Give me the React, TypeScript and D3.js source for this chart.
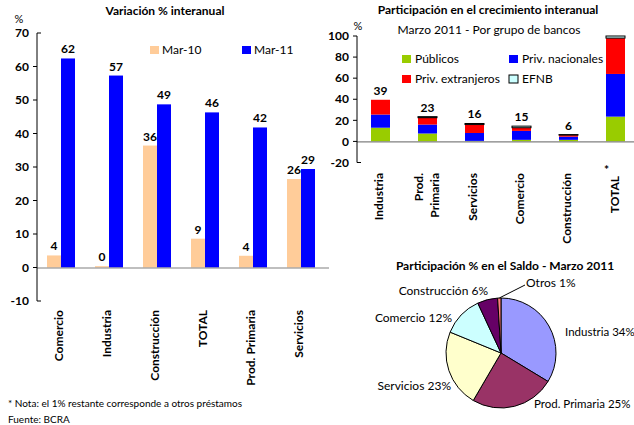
import React from 'react';
import * as d3 from 'd3';

// ---------- data ----------
const sectorsLeft = ['Comercio', 'Industria', 'Construcción', 'TOTAL', 'Prod. Primaria', 'Servicios'];
const seriesLeft = ['Mar-10', 'Mar-11'];
const mar10 = [3.6, 0.4, 36.4, 8.6, 3.5, 26.4];
const mar11 = [62.4, 57.3, 48.7, 46.3, 41.8, 29.4];
const leftTicks = [-10, 0, 10, 20, 30, 40, 50, 60, 70];

const sectorsRight = ['Industria', 'Prod. Primaria', 'Servicios', 'Comercio', 'Construcción', 'TOTAL'];
const groups = ['Públicos', 'Priv. nacionales', 'Priv. extranjeros', 'EFNB'];
const publicos = [13, 7.5, 0.5, 1.5, 1.5, 23.5];
const privNacionales = [12.5, 8.5, 7.5, 8.5, 3, 40.5];
const privExtranjeros = [14, 6.5, 8, 3, 1.5, 34];
const efnb = [0, 1, 1, 1.5, 0.5, 2];
const totalLabels = [39, 23, 16, 15, 6, null];
const rightTicks = [-20, 0, 20, 40, 60, 80, 100];

const pieNames = ['Industria', 'Prod. Primaria', 'Servicios', 'Comercio', 'Construcción', 'Otros'];
const pieValues = [34, 25, 23, 12, 6, 1];

// ---------- styles ----------
const FONT = 'Lato, "Open Sans", "DejaVu Sans", sans-serif';
const colLeft = ['#FFCC99', '#0000FF'];
const colGroups = ['#99CC00', '#0000FF', '#FF0000', '#CCFFFF'];
const colPie = ['#9999FF', '#993366', '#FFFFCC', '#CCFFFF', '#660066', '#FF8080'];
const pieLabelLayout = [
  { dx: 64, dy: -21, anchor: 'start', size: 11.5 },
  { dx: 33, dy: 51, anchor: 'start', size: 11.5 },
  { dx: -50, dy: 33, anchor: 'end', size: 12 },
  { dx: -49, dy: -35, anchor: 'end', size: 12 },
  { dx: -13, dy: -62, anchor: 'end', size: 12 },
  { dx: 25, dy: -70, anchor: 'start', size: 12 },
];

export default function App() {
  // ----- left chart -----
  const xL = d3.scaleBand<string>().domain(sectorsLeft).range([37, 325]);
  const xLi = d3.scaleBand<string>().domain(seriesLeft).range([10, 38]);
  const yL = d3.scaleLinear().domain([-10, 70]).range([301, 33]);
  const leftVals = [mar10, mar11];

  // ----- right chart -----
  const xR = d3.scaleBand<string>().domain(sectorsRight).range([357, 639]);
  const barW = 19;
  const yR = d3.scaleLinear().domain([-20, 100]).range([162.5, 36]);
  const rows = sectorsRight.map((s, i) => ({
    sector: s,
    'Públicos': publicos[i],
    'Priv. nacionales': privNacionales[i],
    'Priv. extranjeros': privExtranjeros[i],
    'EFNB': efnb[i],
  }));
  const stacked = d3.stack<any>().keys(groups)(rows);

  // ----- pie -----
  const cx = 501, cy = 353, r = 55;
  const pieData = d3.pie<number>().sort(null).value((d) => d)(pieValues);
  const arc = d3.arc<any>().innerRadius(0).outerRadius(r);

  const bold = { fontFamily: FONT, fontWeight: 700, fontSize: 12, fill: '#000' } as const;
  const normal = { fontFamily: FONT, fontSize: 12, fill: '#000' } as const;

  const otros = pieData[5];
  const otrosMid = (otros.startAngle + otros.endAngle) / 2;

  return (
    <svg width={634} height={425} style={{ position: 'absolute', left: 0, top: 0, background: '#fff' }}>
      <rect width={634} height={425} fill="#fff" />
      {/* ============ LEFT CHART ============ */}
      <text x={165} y={15} textAnchor="middle" style={bold}>Variación % interanual</text>
      <text x={19} y={23} textAnchor="middle" style={{ ...normal, fontSize: 11 }}>%</text>
      {/* legend */}
      {seriesLeft.map((s, i) => (
        <g key={s}>
          <rect x={150 + i * 92} y={46} width={9} height={8} fill={colLeft[i]} />
          <text x={162 + i * 92} y={54} style={normal}>{s}</text>
        </g>
      ))}
      {/* bars */}
      {sectorsLeft.map((c, ci) =>
        seriesLeft.map((s, si) => {
          const v = leftVals[si][ci];
          const x = (xL(c) as number) + (xLi(s) as number);
          return (
            <g key={c + s}>
              <rect x={x} y={yL(Math.max(0, v))} width={xLi.bandwidth()} height={Math.abs(yL(v) - yL(0))} fill={colLeft[si]} />
              <text x={x + xLi.bandwidth() / 2} y={yL(v) - 5} textAnchor="middle" style={bold}>{Math.round(v)}</text>
            </g>
          );
        })
      )}
      {/* zero line */}
      <line x1={37} x2={329} y1={yL(0) + 0.5} y2={yL(0) + 0.5} stroke="#808080" strokeWidth={1.2} />
      {/* y axis */}
      <line x1={37} x2={37} y1={yL(70)} y2={yL(-10)} stroke="#000" strokeWidth={1} />
      {leftTicks.map((t) => {
        const edge = t === -10 || t === 70;
        return (
          <g key={t}>
            <line x1={edge ? 37 : 33} x2={edge ? 41 : 37} y1={yL(t)} y2={yL(t)} stroke="#000" />
            <text x={29} y={yL(t)} dy="0.35em" textAnchor="end" style={bold}>{t}</text>
          </g>
        );
      })}
      {/* x labels */}
      {sectorsLeft.map((c) => {
        const x = (xL(c) as number) + xL.bandwidth() / 2 - 2;
        return (
          <text key={c} transform={`translate(${x},310) rotate(-90)`} dy="0.35em" textAnchor="end" style={bold}>{c}</text>
        );
      })}
      {/* notes */}
      <text x={8} y={407} style={{ fontFamily: FONT, fontSize: 10, fill: '#000' }}>* Nota: el 1% restante corresponde a otros préstamos</text>
      <text x={8} y={423} style={{ fontFamily: FONT, fontSize: 10, fill: '#000' }}>Fuente: BCRA</text>

      {/* ============ RIGHT TOP CHART ============ */}
      <text x={488} y={14} textAnchor="middle" style={bold}>Participación en el crecimiento interanual</text>
      <text x={489} y={34} textAnchor="middle" style={normal}>Marzo 2011 - Por grupo de bancos</text>
      <text x={358} y={30} textAnchor="middle" style={{ ...normal, fontSize: 11 }}>%</text>
      {/* legend */}
      {groups.map((g, i) => {
        const lx = i % 2 === 0 ? 402 : 509;
        const ly = i < 2 ? 55 : 75;
        return (
          <g key={g}>
            <rect x={lx} y={ly} width={9} height={8} fill={colGroups[i]} stroke={g === 'EFNB' ? '#000' : 'none'} strokeWidth={1} />
            <text x={lx + 13} y={ly + 8} style={normal}>{g}</text>
          </g>
        );
      })}
      {/* stacked bars */}
      {stacked.map((layer, li) =>
        layer.map((d, i) => {
          const c = sectorsRight[i];
          const x = (xR(c) as number) + (xR.bandwidth() - barW) / 2;
          const h = yR(d[0]) - yR(d[1]);
          if (h <= 0) return null;
          return (
            <rect key={li + '-' + i} x={x} y={yR(d[1])} width={barW} height={h} fill={colGroups[li]}
              stroke={groups[li] === 'EFNB' ? '#000' : 'none'} strokeWidth={1} />
          );
        })
      )}
      {totalLabels.map((lab, i) => {
        if (lab === null) return null;
        const c = sectorsRight[i];
        const tot = publicos[i] + privNacionales[i] + privExtranjeros[i] + efnb[i];
        return (
          <text key={c} x={(xR(c) as number) + xR.bandwidth() / 2} y={yR(tot) - 5} textAnchor="middle" style={bold}>{lab}</text>
        );
      })}
      <line x1={357} x2={634} y1={yR(0) + 0.5} y2={yR(0) + 0.5} stroke="#808080" strokeWidth={1.2} />
      <line x1={357} x2={357} y1={yR(100)} y2={yR(-20)} stroke="#000" />
      {rightTicks.map((t) => (
        <g key={t}>
          <line x1={t === -20 ? 357 : 353} x2={t === -20 ? 361 : 357} y1={yR(t)} y2={yR(t)} stroke="#000" />
          <text x={349} y={yR(t)} dy="0.35em" textAnchor="end" style={bold}>{t}</text>
        </g>
      ))}
      {/* x labels */}
      {sectorsRight.map((c) => {
        const cxr = (xR(c) as number) + xR.bandwidth() / 2;
        if (c === 'Prod. Primaria') {
          return (
            <g key={c}>
              <text transform={`translate(${cxr - 9},173) rotate(-90)`} dy="0.35em" textAnchor="end" style={bold}>Prod.</text>
              <text transform={`translate(${cxr + 7},173) rotate(-90)`} dy="0.35em" textAnchor="end" style={bold}>Primaria</text>
            </g>
          );
        }
        if (c === 'TOTAL') {
          return (
            <g key={c}>
              <text x={cxr - 9} y={174} textAnchor="middle" style={bold}>*</text>
              <text transform={`translate(${cxr - 1},176) rotate(-90)`} dy="0.35em" textAnchor="end" style={bold}>TOTAL</text>
            </g>
          );
        }
        return (
          <text key={c} transform={`translate(${cxr - 2},173) rotate(-90)`} dy="0.35em" textAnchor="end" style={bold}>{c}</text>
        );
      })}

      {/* ============ PIE ============ */}
      <text x={505} y={270} textAnchor="middle" style={bold}>Participación % en el Saldo - Marzo 2011</text>
      <g transform={`translate(${cx},${cy})`}>
        {pieData.map((d, i) => (
          <path key={pieNames[i]} d={arc(d) as string} fill={colPie[i]} stroke="#000" strokeWidth={1} />
        ))}
        <line x1={Math.sin(otrosMid) * r} y1={-Math.cos(otrosMid) * r}
          x2={pieLabelLayout[5].dx - 1} y2={pieLabelLayout[5].dy + 2} stroke="#000" strokeWidth={1} />
        {pieData.map((d, i) => (
          <text key={'l' + i} x={pieLabelLayout[i].dx} y={pieLabelLayout[i].dy} dy="0.35em"
            textAnchor={pieLabelLayout[i].anchor as any} style={{ ...normal, fontSize: pieLabelLayout[i].size }}>
            {pieNames[i]} {pieValues[i]}%
          </text>
        ))}
      </g>
    </svg>
  );
}
